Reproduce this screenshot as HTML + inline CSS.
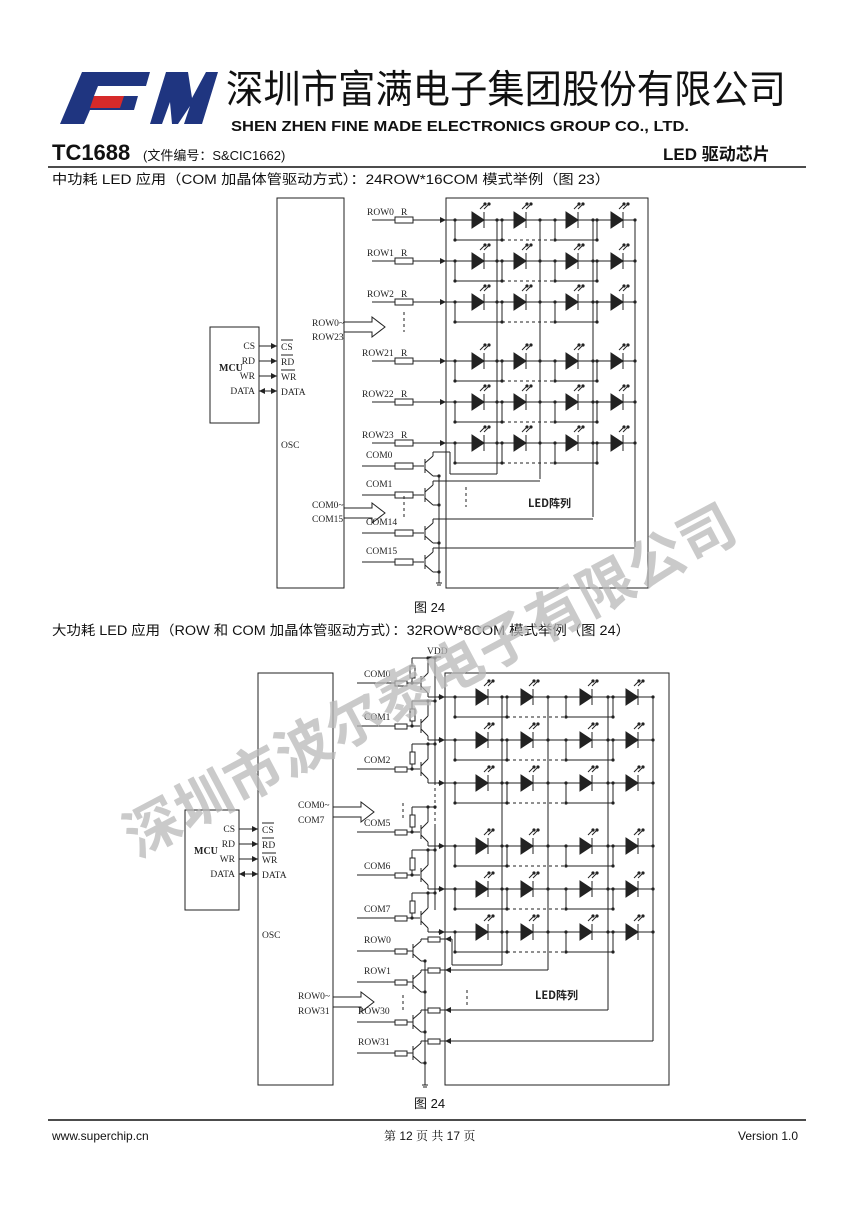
<!DOCTYPE html>
<html><head><meta charset="utf-8">
<style>
html,body{margin:0;padding:0;background:#fff;}
body{width:860px;height:1216px;position:relative;overflow:hidden;font-family:"Liberation Sans","Noto Sans CJK SC",sans-serif;}
svg{position:absolute;left:0;top:0;}
</style></head><body>
<svg id="s" width="860" height="1216" viewBox="0 0 860 1216" xmlns="http://www.w3.org/2000/svg">
<g>
<polygon points="82,72 150,72 146,86 98,86 94,96 138,96 134,110 90,110 84,124 60,124" fill="#1f3580"/>
<polygon points="94,96 124,96 120,108 90,108" fill="#d62a2a"/>
<polygon points="150,124 166,72 188,72 192,98 206,72 218,72 202,124 184,124 190,106 178,124 172,124 170,102 162,124" fill="#1f3580"/>
</g>
<text x="226" y="103" font-family="'Noto Sans CJK SC',sans-serif" font-size="39" fill="#111" textLength="560" lengthAdjust="spacingAndGlyphs">深圳市富满电子集团股份有限公司</text>
<text x="231" y="131" font-family="'Liberation Sans',sans-serif" font-weight="bold" font-size="15" fill="#111" textLength="458" lengthAdjust="spacingAndGlyphs">SHEN ZHEN FINE MADE ELECTRONICS GROUP CO., LTD.</text>
<text x="52" y="160" font-weight="bold" font-size="22" fill="#111">TC1688</text>
<text x="143" y="160" font-size="13" fill="#111" font-family="'Liberation Sans','Noto Sans CJK SC',sans-serif">(文件编号：S&amp;CIC1662)</text>
<text x="663" y="160" font-weight="bold" font-size="17" fill="#111" font-family="'Liberation Sans','Noto Sans CJK SC',sans-serif">LED 驱动芯片</text>
<line x1="48" y1="167" x2="806" y2="167" stroke="#111" stroke-width="1.5"/>
<text x="52" y="184" font-size="13.5" fill="#111" font-family="'Liberation Sans','Noto Sans CJK SC',sans-serif" textLength="558" lengthAdjust="spacingAndGlyphs">中功耗 LED 应用（COM 加晶体管驱动方式）：24ROW*16COM 模式举例（图 23）</text>
<text x="414" y="612" font-size="13" fill="#111" font-family="'Liberation Sans','Noto Sans CJK SC',sans-serif">图 24</text>
<text x="52" y="635" font-size="13.5" fill="#111" font-family="'Liberation Sans','Noto Sans CJK SC',sans-serif" textLength="578" lengthAdjust="spacingAndGlyphs">大功耗 LED 应用（ROW 和 COM 加晶体管驱动方式）：32ROW*8COM 模式举例（图 24）</text>
<text x="414" y="1108" font-size="13" fill="#111" font-family="'Liberation Sans','Noto Sans CJK SC',sans-serif">图 24</text>
<line x1="48" y1="1120" x2="806" y2="1120" stroke="#111" stroke-width="1.5"/>
<text x="52" y="1140" font-size="12" fill="#111">www.superchip.cn</text>
<text x="384" y="1140" font-size="12" fill="#111" font-family="'Liberation Sans','Noto Serif CJK SC',serif">第 12 页 共 17 页</text>
<text x="738" y="1140" font-size="12" fill="#111">Version 1.0</text>
<g id="d" stroke="#222" stroke-width="1" fill="none"></g>
<g id="t" font-family="'Liberation Serif','Noto Serif CJK SC',serif" font-size="9.5" fill="#222"></g>
<text x="430" y="700" text-anchor="middle" font-family="'Noto Sans CJK SC',sans-serif" font-weight="bold" font-size="56" fill="#b8b8b8" fill-opacity="0.75" transform="rotate(-28 430 680)" letter-spacing="1">深圳市波尔泰电子有限公司</text>
</svg>
<script>
var D='',T='';
function L(a,b,c,e,x){D+='<line x1="'+a+'" y1="'+b+'" x2="'+c+'" y2="'+e+'"'+(x||'')+'/>';}
function R(x,y,w,h){D+='<rect x="'+x+'" y="'+y+'" width="'+w+'" height="'+h+'"/>';}
function dot(x,y){D+='<circle cx="'+x+'" cy="'+y+'" r="1.6" fill="#222" stroke="none"/>';}
function tx(x,y,s,extra){T+='<text x="'+x+'" y="'+y+'"'+(extra||'')+'>'+s+'</text>';}
function arrowR(x,y){D+='<polygon points="'+(x-6)+','+(y-3)+' '+x+','+y+' '+(x-6)+','+(y+3)+'" fill="#222" stroke="none"/>';}
function arrowL(x,y){D+='<polygon points="'+(x+6)+','+(y-3)+' '+x+','+y+' '+(x+6)+','+(y+3)+'" fill="#222" stroke="none"/>';}
function led(cx,y){D+='<polygon points="'+(cx-6)+','+(y-8)+' '+(cx+6)+','+y+' '+(cx-6)+','+(y+8)+'" fill="#222" stroke="#222"/>';L(cx+6,y-8,cx+6,y+8);
 L(cx+2,y-11,cx+7,y-16);L(cx+6,y-11,cx+11,y-16);dot(cx+7,y-16);dot(cx+11,y-16);}
var DASH=' stroke-dasharray="3,3"';
function bigArrow(x,y){D+='<polygon points="'+x+','+(y-5)+' '+(x+28)+','+(y-5)+' '+(x+28)+','+(y-10)+' '+(x+41)+','+y+' '+(x+28)+','+(y+10)+' '+(x+28)+','+(y+5)+' '+x+','+(y+5)+'"/>';}
function mcu(x,y,w,h,cx,ly){R(x,y,w,h);tx(x+9,ly+3,'MCU',' font-weight="bold" font-size="10"');
 var n=['CS','RD','WR','DATA'];for(var i=0;i<4;i++){var yy=ly-22+i*15;tx(x+w-4,yy+3,n[i],' text-anchor="end"');L(x+w,yy,cx,yy);if(i<3)arrowR(cx,yy);else{arrowL(x+w,yy);arrowR(cx,yy);}
 tx(cx+4,yy+4,n[i]);if(i<3)L(cx+4,yy-6,cx+4+(i==2?14:12),yy-6);}}
function matrix(cxs,lefts,caths,rows,x0){
 for(var r=0;r<rows.length;r++){var y=rows[r];L(x0,y,caths[3],y);
  for(var c=0;c<4;c++){led(cxs[c],y);dot(lefts[c],y);dot(caths[c],y);
   L(lefts[c],y,lefts[c],y+20);dot(lefts[c],y+20);}
  L(lefts[0],y+20,lefts[1],y+20);L(lefts[1],y+20,lefts[2],y+20,DASH);L(lefts[2],y+20,lefts[3],y+20);
 }
}
// ===== Diagram 1 =====
R(277,198,67,390);R(446,198,202,390);mcu(210,327,49,96,277,368);
tx(281,448,'OSC');
tx(312,326,'ROW0~');tx(312,340,'ROW23');bigArrow(344,327);
tx(312,508,'COM0~');tx(312,522,'COM15');bigArrow(344,513);
var r1=[220,261,302,361,402,443],n1=['ROW0','ROW1','ROW2','ROW21','ROW22','ROW23'];
for(var i=0;i<6;i++){var y=r1[i];tx(i<3?367:362,y-5,n1[i]);tx(401,y-5,'R');L(372,y,395,y);R(395,y-3,18,6);L(413,y,446,y);arrowR(446,y);}
L(404,312,404,332,DASH);
var cx1=[478,520,572,617],lf1=[455,502,555,597],ca1=[497,540,593,635];
matrix(cx1,lf1,ca1,r1,446);
L(497,220,497,474);L(540,220,540,479);L(593,220,593,517);L(635,220,635,547);
[497,540,593,635].forEach(function(x){L(x,322,x,361,DASH);});
var c1=[466,495,533,562],cn1=['COM0','COM1','COM14','COM15'],cend=[[450,474,497],[0,479,540],[0,517,593],[0,547,635]];
for(var i=0;i<4;i++){var y=c1[i];tx(366,y-8,cn1[i]);L(362,y,395,y);R(395,y-3,18,6);L(413,y,424,y);
 L(425,y-7,425,y+7);L(425,y-3,433,y-10);L(425,y+3,433,y+10);L(433,y-10,433,y-14);
 if(i==0){L(433,y-14,450,y-14);L(450,y-14,450,474);L(450,474,497,474);}else{L(433,y-14,cend[i][2],y-14);}
 L(433,y+10,439,y+10);dot(439,y+10);}
L(439,476,439,583);L(436,583,442,583);L(437,585,441,585);
L(404,496,404,520,DASH);L(466,487,466,507,DASH);
tx(528,507,'LED阵列',' font-weight="bold" font-size="11" font-family="\'Noto Sans CJK SC\',sans-serif"');
// ===== Diagram 2 =====
R(258,673,75,412);R(445,673,224,412);mcu(185,810,54,100,258,851);
tx(262,938,'OSC');
tx(298,808,'COM0~');tx(298,823,'COM7');bigArrow(333,812);
tx(298,999,'ROW0~');tx(298,1014,'ROW31');bigArrow(333,1002);
var r2=[697,740,783,846,889,932],cn2=['COM0','COM1','COM2','COM5','COM6','COM7'];
var cx2=[482,527,586,632],lf2=[455,507,566,613],ca2=[502,548,608,653];
matrix(cx2,lf2,ca2,r2,440);
L(502,697,502,965);L(548,697,548,970);L(608,697,608,1010);L(653,697,653,1041);
[502,548,608,653].forEach(function(x){L(x,803,x,846,DASH);});
tx(427,654,'VDD');L(429,657,441,657);L(435,657,435,782);L(435,782,435,826,DASH);L(435,826,435,910);
for(var i=0;i<6;i++){var y=r2[i];var ly=y-20,by=y-14;tx(364,ly,cn2[i]);L(357,by,395,by);R(395,by-2,12,5);L(407,by,420,by);
 R(410,by-17,5,12);L(412,by-5,412,by);L(412,by-17,412,by-25);L(412,by-25,435,by-25);dot(412,by);dot(428,by-25);dot(435,by-25);
 L(421,by-7,421,by+7);L(421,by-3,428,by-10);L(428,by-10,428,by-25);L(421,by+3,428,by+10);L(428,by+10,428,y);L(428,y,445,y);arrowR(445,y);dot(440,y);}
L(403,803,403,818,DASH);
var r3=[951,982,1022,1053],cn3=['ROW0','ROW1','ROW30','ROW31'],ro=[939,970,1010,1041];
for(var i=0;i<4;i++){var y=r3[i];tx(i<2?364:358,y-8,cn3[i]);L(357,y,395,y);R(395,y-2,12,5);L(407,y,413,y);
 L(413,y-7,413,y+7);L(413,y-3,421,y-10);L(413,y+3,421,y+10);L(421,y-10,421,ro[i]);L(421,ro[i],428,ro[i]);R(428,ro[i]-2,12,5);L(440,ro[i],445,ro[i]);arrowL(445,ro[i]);
 L(421,y+10,425,y+10);dot(425,y+10);}
L(452,939,452,965);L(452,965,502,965);L(445,939,452,939);
L(445,970,548,970);L(445,1010,608,1010);L(445,1041,653,1041);
L(425,961,425,1085);L(422,1085,428,1085);L(423,1087,427,1087);
L(403,995,403,1010,DASH);L(467,990,467,1006,DASH);
tx(535,999,'LED阵列',' font-weight="bold" font-size="11" font-family="\'Noto Sans CJK SC\',sans-serif"');
document.getElementById('d').innerHTML=D;document.getElementById('t').innerHTML=T;
</script>
</body></html>
